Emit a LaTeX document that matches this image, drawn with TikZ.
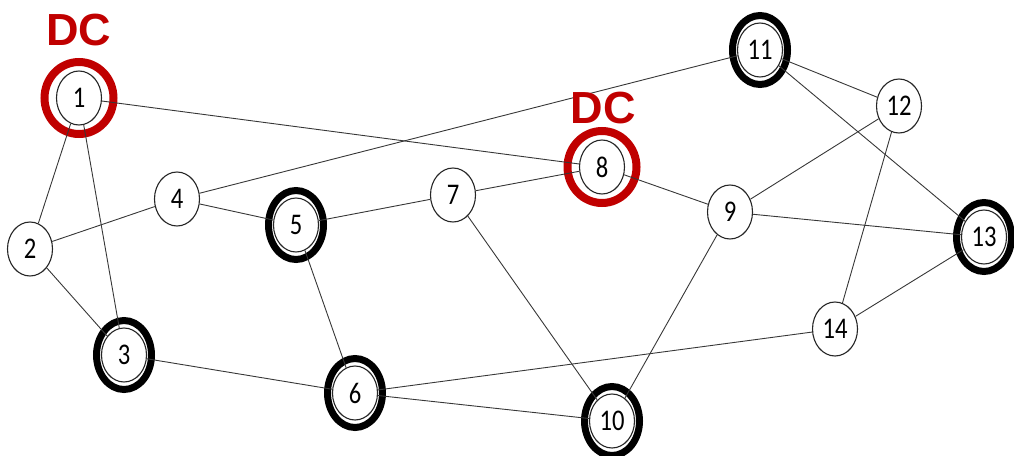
\documentclass[tikz,border=0pt]{standalone}
\usepackage{fontspec}
\usepackage{graphicx}
\setmainfont{Carlito}
\newfontfamily\dcfont{Liberation Sans}
\usetikzlibrary{shapes.geometric,backgrounds}
\definecolor{dcred}{RGB}{192,0,0}
\definecolor{edgegray}{RGB}{55,55,55}
\newcommand\vlabel[1]{\scalebox{0.82}[1]{#1}}
\tikzset{
  vtx/.style={ellipse, draw=black!85, line width=1.1pt, fill=white,
    minimum width=45pt, minimum height=54pt, inner sep=0pt,
    font=\fontsize{30}{30}\selectfont},
  link/.style={draw=edgegray, line width=0.9pt},
  hubring/.style={draw=black, line width=7pt},
  dcring/.style={draw=dcred, line width=8pt},
  dctag/.style={text=dcred, anchor=base, inner sep=0pt,
    font=\dcfont\bfseries\fontsize{45}{45}\selectfont}
}
\begin{document}
\begin{tikzpicture}[x=1pt, y=-1pt]
\useasboundingbox (0,0) rectangle (1014,455);

% vertices
\node[vtx] (n1)  at (79,98)   {\vlabel{1}};
\node[vtx] (n2)  at (30,249)  {\vlabel{2}};
\node[vtx] (n3)  at (124,355) {\vlabel{3}};
\node[vtx] (n4)  at (177,199) {\vlabel{4}};
\node[vtx] (n5)  at (296,225) {\vlabel{5}};
\node[vtx] (n6)  at (355,393) {\vlabel{6}};
\node[vtx] (n7)  at (453,195) {\vlabel{7}};
\node[vtx] (n8)  at (602,167) {\vlabel{8}};
\node[vtx] (n9)  at (730,212) {\vlabel{9}};
\node[vtx] (n10) at (612,421) {\vlabel{10}};
\node[vtx] (n11) at (760,50)  {\vlabel{11}};
\node[vtx] (n12) at (899,106) {\vlabel{12}};
\node[vtx] (n13) at (984,237) {\vlabel{13}};
\node[vtx] (n14) at (835,329) {\vlabel{14}};

% rings around hub and DC vertices
\begin{scope}[on background layer]
  \foreach \v in {n3,n5,n6,n10,n11,n13}
    \draw[hubring] (\v.center) ellipse [x radius=27.5, y radius=34.5];
  \foreach \v in {n1,n8}
    \draw[dcring] (\v.center) ellipse [x radius=34.5, y radius=36];
\end{scope}

% links
\foreach \a/\b in {n1/n2, n1/n3, n1/n8, n2/n3, n2/n4, n4/n5, n4/n11,
                   n5/n7, n5/n6, n7/n8, n7/n10, n8/n9, n9/n12, n9/n13,
                   n9/n10, n11/n12, n11/n13, n12/n14, n13/n14, n3/n6,
                   n6/n14, n6/n10}
  \draw[link] (\a) -- (\b);

% data-centre tags
\node[dctag] (dc1) at (79,45)  {DC};
\node[dctag] (dc8) at (603,123) {DC};
\end{tikzpicture}
\end{document}
